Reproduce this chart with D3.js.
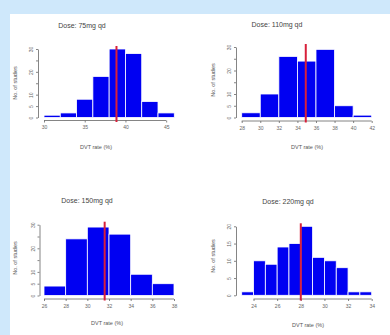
<!DOCTYPE html>
<html>
<head>
<meta charset="utf-8">
<script src="https://cdn.jsdelivr.net/npm/d3@7"></script>
<style>
  body { margin: 0; background: #cfe8fb; }
  svg { display: block; font-family: "Liberation Sans", Arial, sans-serif; }
</style>
</head>
<body>
<div id="chart"></div>
<script>
// chart data
const titles = ['Dose: 75mg qd', 'Dose: 110mg qd', 'Dose: 150mg qd', 'Dose: 220mg qd'];
const binEdges75 = [30, 32, 34, 36, 38, 40, 42, 44, 46];
const counts75 = [1, 2, 8, 18, 30, 28, 7, 2];
const binEdges110 = [28, 30, 32, 34, 36, 38, 40, 42];
const counts110 = [2, 10, 26, 24, 29, 5, 1];
const binEdges150 = [26, 28, 30, 32, 34, 36, 38];
const counts150 = [4, 24, 29, 26, 9, 5];
const binEdges220 = [23, 24, 25, 26, 27, 28, 29, 30, 31, 32, 33, 34];
const counts220 = [1, 10, 9, 14, 15, 20, 11, 10, 8, 1, 1];
const meanRates = [38.9, 34.9, 31.6, 28.0];
const xTicks = [[30, 35, 40, 45], [28, 30, 32, 34, 36, 38, 40, 42], [26, 28, 30, 32, 34, 36, 38], [24, 26, 28, 30, 32, 34]];
const yTicks = [[0, 5, 10, 15, 20, 25, 30], [0, 5, 10, 15, 20, 25, 30], [0, 5, 10, 15, 20, 25, 30], [0, 5, 10, 15, 20]];
const yLabelled = [[0, 5, 10, 20, 30], [0, 5, 10, 20, 30], [0, 5, 10, 20, 30], [0, 5, 10, 15, 20]];
const xTitle = 'DVT rate (%)';
const yTitle = 'No. of studies';

const edges = [binEdges75, binEdges110, binEdges150, binEdges220];
const counts = [counts75, counts110, counts150, counts220];

// where each panel sits on the page
const layout = [
  {x0: 44, x1: 174.3, yBase: 117.5, yTop: 49, axisX: 38, axisY: 120.5, title: [82, 28], xlab: [96, 149], ylab: [17, 83]},
  {x0: 241.7, x1: 371.7, yBase: 117.5, yTop: 47, axisX: 236, axisY: 121, title: [277, 27], xlab: [307, 149], ylab: [215, 80]},
  {x0: 44, x1: 174, yBase: 295.5, yTop: 224.7, axisX: 39.5, axisY: 299, title: [87, 203], xlab: [107, 325], ylab: [17, 258]},
  {x0: 241.7, x1: 371.7, yBase: 295.3, yTop: 226.3, axisX: 236, axisY: 299, title: [288, 204], xlab: [308, 327], ylab: [215, 256]}
];

const svg = d3.select('#chart').append('svg')
  .attr('width', 390)
  .attr('height', 335);

svg.append('rect')
  .attr('width', 390).attr('height', 335)
  .attr('fill', '#cfe8fb');

svg.append('rect')
  .attr('x', 10).attr('y', 14)
  .attr('width', 380).attr('height', 321)
  .attr('fill', '#ffffff');

layout.forEach((L, i) => {
  const e = edges[i];
  const c = counts[i];
  const bins = c.map((v, j) => ({x0: e[j], x1: e[j + 1], n: v}));
  const yMax = d3.max(yTicks[i]);

  const x = d3.scaleLinear()
    .domain([e[0], e[e.length - 1]])
    .range([L.x0, L.x1]);

  const y = d3.scaleLinear()
    .domain([0, yMax])
    .range([L.yBase, L.yTop]);

  const g = svg.append('g');

  // bars
  g.selectAll('.bar')
    .data(bins)
    .enter()
    .append('rect')
    .attr('class', 'bar')
    .attr('x', d => x(d.x0))
    .attr('y', d => y(d.n))
    .attr('width', d => x(d.x1) - x(d.x0))
    .attr('height', d => y(0) - y(d.n))
    .attr('fill', '#0000f2')
    .attr('stroke', '#ffffff')
    .attr('stroke-width', 0.8);

  // x axis
  const xt = xTicks[i];
  const xAxis = g.append('g')
    .attr('transform', `translate(0,${L.axisY})`)
    .call(d3.axisBottom(x).tickValues(xt).tickSize(2).tickSizeOuter(0).tickPadding(3));
  xAxis.select('.domain')
    .attr('d', `M${x(xt[0])},0H${x(xt[xt.length - 1])}`);

  // y axis
  const yAxis = g.append('g')
    .attr('transform', `translate(${L.axisX},0)`)
    .call(d3.axisLeft(y).tickValues(yTicks[i]).tickSize(2).tickSizeOuter(0)
      .tickFormat(d => yLabelled[i].includes(d) ? d : ''));
  yAxis.selectAll('.tick text')
    .attr('transform', 'rotate(-90)')
    .attr('x', 0)
    .attr('y', -5)
    .attr('dy', 0)
    .attr('text-anchor', 'middle');

  g.selectAll('.domain, .tick line')
    .attr('stroke', '#666')
    .attr('stroke-width', 0.8);
  g.selectAll('.tick text')
    .attr('fill', '#666')
    .attr('font-size', 5);

  // mean line
  g.append('line')
    .attr('x1', x(meanRates[i])).attr('x2', x(meanRates[i]))
    .attr('y1', L.yTop - 3).attr('y2', L.axisY + 1.5)
    .attr('stroke', '#d8203a')
    .attr('stroke-width', 2);

  // titles
  g.append('text')
    .attr('x', L.title[0]).attr('y', L.title[1])
    .attr('text-anchor', 'middle')
    .attr('font-size', 7)
    .attr('fill', '#444')
    .text(titles[i]);

  g.append('text')
    .attr('x', L.xlab[0]).attr('y', L.xlab[1])
    .attr('text-anchor', 'middle')
    .attr('font-size', 5.5)
    .attr('fill', '#555')
    .text(xTitle);

  g.append('text')
    .attr('transform', `translate(${L.ylab[0]},${L.ylab[1]}) rotate(-90)`)
    .attr('text-anchor', 'middle')
    .attr('font-size', 5.5)
    .attr('fill', '#555')
    .text(yTitle);
});
</script>
</body>
</html>
